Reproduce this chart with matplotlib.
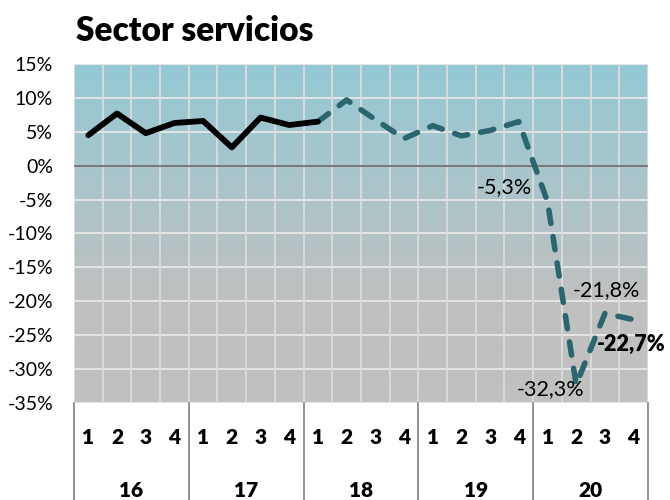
import matplotlib.pyplot as plt
import numpy as np
from matplotlib.colors import LinearSegmentedColormap

plt.rcParams['font.family'] = ['Lato', 'DejaVu Sans']

# datos trimestrales (% variación)
quarters = ['1', '2', '3', '4'] * 5
years = ['16', '17', '18', '19', '20']
real = [4.5, 7.7, 4.8, 6.3, 6.6, 2.7, 7.1, 6.0, 6.5]
proj = [6.5, 9.7, 6.8, 4.0, 5.9, 4.4, 5.2, 6.5, -5.3, -32.3, -21.8, -22.7]
yticks = [15, 10, 5, 0, -5, -10, -15, -20, -25, -30, -35]

n = len(quarters)
x = np.arange(n)
x_real = x[:len(real)]
x_proj = x[len(real) - 1:]

fig = plt.figure(figsize=(6.7, 5), dpi=100)
ax = fig.add_axes([0.1104, 0.194, 0.8567, 0.678])

# fondo degradado azul -> gris
cmap = LinearSegmentedColormap.from_list('bg', [(0, '#94c9d5'), (0.7, '#c0c0c0'), (1, '#c0c0c0')])
grad = np.linspace(0, 1, 256).reshape(-1, 1)
ax.imshow(grad, cmap=cmap, extent=[-0.5, n - 0.5, -35, 15], aspect='auto', zorder=0)

ax.set_xlim(-0.5, n - 0.5)
ax.set_ylim(-35, 15)

# rejilla
for v in yticks:
    ax.axhline(v, color='#e8e8e8', lw=1.3, zorder=1)
for b in np.arange(-0.5, n, 1):
    ax.axvline(b, color='#dcdcdc', lw=1.3, zorder=1)
ax.axhline(0, color='#6e6e6e', lw=1.3, zorder=2)

ax.plot(x_real, real, color='black', lw=4.2, zorder=4, solid_capstyle='round')
ax.plot(x_proj, proj, color='#2b6670', lw=4.0, ls=(0, (2.4, 2.4)), zorder=3,
        dash_capstyle='round')

# etiquetas de datos
lbls = [(16, '-5,3%', (-16, 15), 'right', 'normal'),
        (17, '-32,3%', (-26, -4), 'center', 'normal'),
        (18, '-21,8%', (1, 23), 'center', 'normal'),
        (19, '-22,7%', (-2, -25), 'center', 'heavy')]
for i, t, off, ha, w in lbls:
    ax.annotate(t, (x[i], proj[i - len(real) + 1]), xytext=off, textcoords='offset pixels',
                ha=ha, va='center', fontsize=15.5, fontweight=w, color='black',
                annotation_clip=False, zorder=5)

ax.set_yticks(yticks)
ax.set_yticklabels([f'{v}%' for v in yticks], fontsize=14)
ax.tick_params(axis='y', length=0, pad=15)
ax.set_xticks([])
for s in ax.spines.values():
    s.set_visible(False)

# eje x de dos niveles
tr = ax.get_xaxis_transform()
for i, q in enumerate(quarters):
    ax.text(x[i], -0.103, q, transform=tr, ha='center', va='center',
            fontsize=15, fontweight='heavy')
for j, yr in enumerate(years):
    ax.text(4 * j + 1.5, -0.257, yr, transform=tr, ha='center', va='center',
            fontsize=15, fontweight='heavy')
for b in np.arange(-0.5, n + 0.5, 4):
    ax.plot([b, b], [0, -0.3], transform=tr, color='#7f7f7f', lw=1.2, clip_on=False)

fig.text(0.113, 0.938, 'Sector servicios', fontsize=24, fontweight='heavy', va='center')

fig.savefig('out.png', dpi=100)
